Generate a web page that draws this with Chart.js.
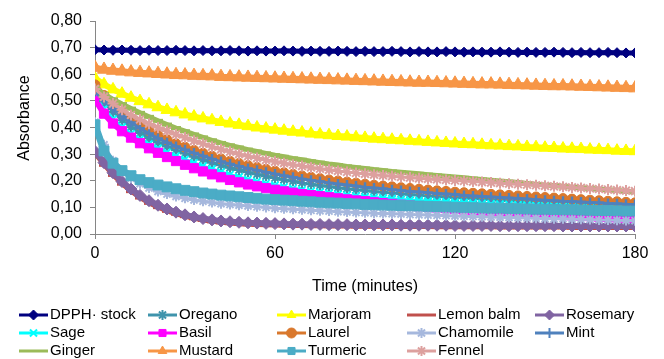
<!DOCTYPE html>
<html><head><meta charset="utf-8">
<script src="https://cdn.jsdelivr.net/npm/chart.js@4/dist/chart.umd.min.js"></script>
<style>html,body{margin:0;padding:0;background:#fff;}#wrap{width:664px;height:359px;position:relative;}</style>
</head><body><div id="wrap"><canvas id="c" width="664" height="359"></canvas></div>
<script>
// ---- DATA ----
const timeMinutes = [0,3,6,9,12,15,18,21,24,27,30,33,36,39,42,45,48,51,54,57,60,63,66,69,72,75,78,81,84,87,90,93,96,99,102,105,108,111,114,117,120,123,126,129,132,135,138,141,144,147,150,153,156,159,162,165,168,171,174,177,180];
const xTicks = [0,60,120,180];
const seriesNames = ['DPPH\u00b7 stock','Oregano','Marjoram','Lemon balm','Rosemary','Sage','Basil','Laurel','Chamomile','Mint','Ginger','Mustard','Turmeric','Fennel'];
const yAxisTitle = 'Absorbance';
const xAxisTitle = 'Time (minutes)';

const dpphStock = [.692,.691,.690,.691,.690,.689,.690,.689,.689,.690,
 .689,.688,.689,.688,.688,.689,.688,.687,.688,.687,
 .687,.688,.687,.686,.687,.686,.686,.687,.686,.685,
 .686,.685,.685,.686,.685,.684,.685,.684,.684,.685,
 .684,.683,.684,.683,.683,.684,.683,.682,.683,.682,
 .682,.683,.682,.681,.682,.681,.681,.682,.681,.680,.680];
const oregano = [.540,.495,.458,.427,.401,.379,.360,.344,.329,.315,
 .302,.290,.279,.268,.258,.249,.240,.232,.224,.217,
 .210,.204,.198,.192,.187,.182,.178,.174,.170,.166,
 .163,.160,.157,.154,.151,.148,.146,.143,.141,.139,
 .137,.135,.133,.131,.129,.127,.125,.123,.121,.119,
 .117,.116,.114,.113,.111,.110,.108,.107,.105,.104,.103];
const marjoram = [.585,.562,.543,.527,.512,.499,.487,.476,.466,.457,
 .449,.441,.434,.427,.421,.415,.410,.405,.400,.396,
 .392,.388,.384,.381,.377,.374,.371,.368,.366,.363,
 .361,.358,.356,.354,.352,.350,.348,.346,.344,.342,
 .340,.338,.337,.335,.333,.332,.330,.329,.327,.326,
 .324,.323,.321,.320,.319,.317,.316,.315,.313,.312,.311];
const lemonBalm = [.300,.258,.220,.187,.159,.135,.115,.099,.085,.074,
 .065,.057,.051,.046,.042,.039,.037,.035,.034,.033,
 .032,.031,.030,.030,.029,.029,.028,.028,.028,.027,
 .027,.027,.027,.026,.026,.026,.026,.026,.025,.025,
 .025,.025,.025,.025,.025,.024,.024,.024,.024,.024,
 .024,.024,.024,.023,.023,.023,.023,.023,.023,.023,.023];
const rosemary = [.310,.268,.230,.197,.169,.145,.125,.108,.094,.082,
 .072,.064,.058,.053,.049,.046,.044,.042,.041,.040,
 .039,.038,.037,.037,.036,.036,.035,.035,.035,.034,
 .034,.034,.034,.034,.033,.033,.033,.033,.033,.033,
 .032,.032,.032,.032,.032,.031,.031,.031,.031,.031,
 .031,.031,.030,.030,.030,.030,.030,.030,.030,.030,.030];
const sage = [.520,.470,.432,.402,.377,.356,.338,.322,.307,.293,
 .280,.267,.255,.244,.233,.223,.214,.205,.197,.190,
 .183,.177,.171,.166,.161,.157,.153,.149,.146,.143,
 .140,.137,.135,.132,.130,.128,.126,.124,.122,.121,
 .119,.118,.116,.115,.114,.112,.111,.110,.109,.107,
 .106,.105,.104,.103,.102,.101,.100,.099,.098,.097,.096];
const basil = [.505,.452,.415,.386,.362,.341,.322,.305,.289,.274,
 .260,.247,.235,.224,.213,.203,.194,.186,.179,.172,
 .166,.160,.155,.150,.146,.142,.138,.134,.130,.126,
 .123,.119,.116,.113,.110,.107,.104,.102,.099,.097,
 .094,.092,.090,.088,.086,.084,.082,.080,.078,.076,
 .075,.073,.071,.070,.068,.067,.065,.064,.062,.061,.060];
const laurel = [.560,.520,.487,.458,.432,.409,.388,.370,.354,.339,
 .326,.314,.303,.292,.282,.273,.265,.257,.250,.243,
 .236,.230,.224,.218,.213,.208,.203,.199,.195,.191,
 .187,.183,.180,.177,.174,.171,.168,.165,.162,.160,
 .157,.155,.153,.151,.149,.147,.145,.143,.141,.139,
 .137,.135,.133,.131,.129,.127,.125,.123,.121,.119,.117];
const chamomile = [.420,.335,.275,.236,.209,.189,.173,.160,.150,.141,
 .134,.128,.123,.118,.114,.111,.108,.105,.102,.100,
 .097,.095,.093,.091,.089,.087,.086,.084,.083,.081,
 .080,.078,.077,.076,.075,.073,.072,.071,.070,.069,
 .068,.067,.066,.065,.064,.063,.062,.061,.060,.059,
 .058,.057,.057,.056,.055,.054,.053,.053,.052,.051,.050];
const mint = [.535,.500,.470,.443,.419,.397,.377,.359,.343,.329,
 .316,.304,.293,.282,.272,.263,.254,.246,.239,.232,
 .225,.219,.213,.207,.202,.197,.192,.188,.184,.180,
 .176,.173,.170,.166,.163,.160,.158,.155,.152,.150,
 .148,.145,.143,.141,.139,.137,.135,.133,.131,.129,
 .127,.125,.123,.122,.120,.118,.117,.115,.114,.112,.111];
const ginger = [.550,.526,.506,.488,.471,.455,.440,.425,.411,.398,
 .386,.374,.363,.352,.342,.333,.325,.317,.310,.303,
 .296,.290,.284,.279,.273,.268,.263,.259,.254,.250,
 .246,.242,.239,.235,.232,.229,.226,.223,.220,.217,
 .214,.211,.208,.205,.202,.199,.196,.193,.190,.187,
 .184,.182,.179,.176,.174,.171,.168,.166,.163,.160,.158];
const mustard = [.625,.618,.614,.611,.608,.606,.604,.602,.600,.598,
 .597,.595,.594,.593,.591,.590,.589,.588,.587,.586,
 .585,.584,.583,.582,.581,.580,.579,.578,.577,.576,
 .575,.574,.573,.572,.571,.570,.569,.569,.568,.567,
 .566,.565,.564,.563,.563,.562,.561,.560,.559,.558,
 .557,.556,.556,.555,.554,.553,.552,.551,.550,.549,.548];
const turmeric = [.410,.312,.266,.238,.219,.204,.193,.184,.177,.170,
 .164,.159,.154,.150,.146,.143,.140,.137,.134,.131,
 .129,.127,.125,.123,.121,.119,.117,.116,.114,.113,
 .111,.110,.109,.108,.107,.106,.105,.104,.103,.102,
 .101,.100,.099,.098,.097,.097,.096,.095,.094,.093,
 .093,.092,.091,.091,.090,.089,.088,.088,.087,.086,.086];
const fennel = [.545,.515,.490,.467,.447,.430,.414,.400,.387,.374,
 .362,.350,.339,.328,.318,.309,.300,.292,.285,.278,
 .272,.266,.260,.255,.250,.245,.241,.237,.233,.229,
 .226,.223,.220,.217,.214,.212,.209,.207,.205,.203,
 .201,.199,.197,.195,.193,.191,.189,.187,.185,.183,
 .181,.179,.177,.175,.173,.171,.169,.167,.165,.163,.161];

const seriesValues = [dpphStock,oregano,marjoram,lemonBalm,rosemary,sage,basil,laurel,chamomile,mint,ginger,mustard,turmeric,fennel];

// ---- STYLES ----
const seriesStyles = [
 {color:'#000080', shape:'rectRot',  r:5,   bw:1,   lw:5},
 {color:'#3F94AC', shape:'star',     r:5,   bw:2,   lw:3},
 {color:'#FFFF00', shape:'triangle', r:7,   bw:1,   lw:6},
 {color:'#C0504D', shape:'line',     r:5,   bw:3,   lw:4},
 {color:'#8064A2', shape:'rectRot',  r:6,   bw:1,   lw:6},
 {color:'#00FFFF', shape:'crossRot', r:5,   bw:2,   lw:3},
 {color:'#FF00FF', shape:'rect',     r:6.5, bw:1,   lw:6},
 {color:'#D9782D', shape:'circle',   r:5,   bw:1,   lw:5},
 {color:'#A6B8DD', shape:'star',     r:5,   bw:2,   lw:3},
 {color:'#4F81BD', shape:'cross',    r:5,   bw:2.5, lw:3},
 {color:'#9BBB59', shape:'line',     r:5,   bw:4,   lw:5},
 {color:'#F79646', shape:'triangle', r:7.5, bw:1,   lw:6},
 {color:'#4BACC6', shape:'rect',     r:7,   bw:1,   lw:7},
 {color:'#DDA09E', shape:'star',     r:5.5, bw:2,   lw:3}
];

const FONT = '"Liberation Sans", Arial, sans-serif';
const n = seriesNames.length;
const datasets = seriesNames.map((name, i) => {
  const st = seriesStyles[i];
  return {
    label: name,
    data: timeMinutes.map((t, k) => ({x: t, y: seriesValues[i][k]})),
    borderColor: st.color,
    backgroundColor: st.color,
    borderWidth: st.lw,
    pointStyle: st.shape,
    pointRadius: st.r,
    pointBorderWidth: st.bw,
    pointBackgroundColor: st.color,
    pointBorderColor: st.color,
    pointHoverRadius: st.r,
    tension: 0,
    fill: false,
    order: n - 1 - i
  };
});

const excelDecor = {
  id: 'excelDecor',
  afterDraw(chart) {
    const ctx = chart.ctx;
    // y-axis title
    ctx.save();
    ctx.translate(25, 118);
    ctx.rotate(-Math.PI / 2);
    ctx.fillStyle = '#000'; ctx.font = '16px ' + FONT; ctx.textAlign = 'center'; ctx.textBaseline = 'middle';
    ctx.fillText(yAxisTitle, 0, 0);
    ctx.restore();
    // legend
    const colX = [19, 148, 277, 407, 535];
    const rowY = [315, 333, 351];
    chart.data.datasets.forEach((ds, i) => {
      const x = colX[i % 5], y = rowY[Math.floor(i / 5)];
      ctx.save();
      ctx.strokeStyle = ds.borderColor; ctx.lineWidth = 3;
      ctx.beginPath(); ctx.moveTo(x, y); ctx.lineTo(x + 29, y); ctx.stroke();
      ctx.fillStyle = ds.pointBackgroundColor; ctx.strokeStyle = ds.pointBorderColor;
      const bw = Math.min(ds.pointBorderWidth, 2);
      ctx.lineWidth = bw;
      const r = Math.min(ds.pointRadius, 5);
      if (Chart.helpers && Chart.helpers.drawPoint) {
        Chart.helpers.drawPoint(ctx, {pointStyle: ds.pointStyle, radius: r, borderWidth: bw, rotation: 0}, x + 14.5, y);
      }
      ctx.fillStyle = '#000'; ctx.font = '15px ' + FONT; ctx.textBaseline = 'middle'; ctx.textAlign = 'left';
      ctx.fillText(ds.label, x + 31, y);
      ctx.restore();
    });
  }
};

new Chart(document.getElementById('c'), {
  type: 'line',
  data: { datasets },
  plugins: [excelDecor],
  options: {
    responsive: false,
    animation: false,
    devicePixelRatio: 1,
    layout: { padding: { left: 0, right: 29, top: 21, bottom: 0 } },
    plugins: { legend: { display: false }, tooltip: { enabled: false } },
    scales: {
      x: {
        type: 'linear', min: 0, max: 180,
        afterBuildTicks(s) { s.ticks = xTicks.map(v => ({value: v})); },
        afterFit(s) { s.height = 125; },
        ticks: { color: '#000', font: {size: 16, family: FONT}, padding: 5, maxRotation: 0, autoSkip: false },
        grid: { drawOnChartArea: false, drawTicks: true, tickLength: 5, color: '#868686' },
        border: { display: true, color: '#868686', width: 1 },
        title: { display: true, text: xAxisTitle, color: '#000', font: {size: 16, family: FONT}, padding: {top: 0, bottom: 63} }
      },
      y: {
        min: 0, max: 0.8,
        afterFit(s) { s.width = 95; },
        ticks: { stepSize: 0.1, color: '#000', font: {size: 16, family: FONT}, padding: 8,
                 callback: v => Number(v).toFixed(2).replace('.', ',') },
        grid: { drawOnChartArea: false, drawTicks: true, tickLength: 5, color: '#868686' },
        border: { display: true, color: '#868686', width: 1 },
        title: { display: false }
      }
    }
  }
});
</script>
</body></html>
